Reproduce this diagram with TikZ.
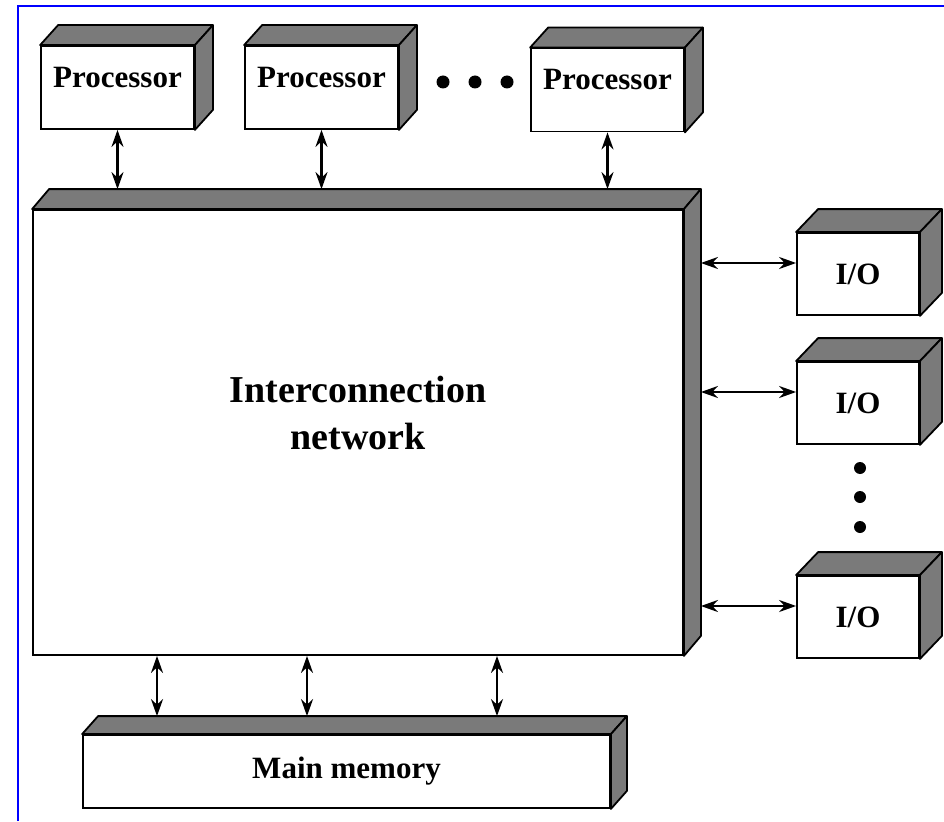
\documentclass[tikz,border=0pt]{standalone}
\usepackage{fontspec}
\setmainfont{Liberation Serif}
\usetikzlibrary{arrows.meta,calc}

\tikzset{
  face/.style={draw,fill=white,line width=1.8pt,inner sep=0pt,
    font=\bfseries\fontsize{31}{36}\selectfont},
  lbl/.style={inner sep=0pt,font=\bfseries\fontsize{31}{36}\selectfont},
  shade/.style={draw,fill=black!52,line width=1.8pt,line join=round},
  link/.style={{Stealth[length=17pt,width=12pt]}-{Stealth[length=17pt,width=12pt]},line width=2.2pt},
}
% top and right side of a box whose front is node #1, depth (#2,#3)
\newcommand{\boxsides}[3]{%
  \draw[shade] (#1.north west) -- ++(#2,#3) -- ($(#1.north east)+(#2,#3)$)
    -- (#1.north east) -- cycle;
  \draw[shade] (#1.north east) -- ++(#2,#3) -- ($(#1.south east)+(#2,#3)$)
    -- (#1.south east) -- cycle;}

\begin{document}
\begin{tikzpicture}[x=1pt,y=-1pt]
 \useasboundingbox (0,0) rectangle (944,821);
 \draw[blue,line width=2.2pt] (18,821) -- (18,6) -- (944,6);
 % processors
 \foreach \n/\x/\y in {p1/117.5/87.5,p2/321.5/87.5,p3/607.5/90}{
  \node[face,minimum width=153pt,minimum height=83pt] (\n) at (\x,\y) {};
  \boxsides{\n}{18}{-20}
  \node[lbl] (\n-t) at ([yshift=10pt]\n.center) {Processor};
 }
 \foreach \x in {443,475,507}{\fill (\x,82) circle (6.5pt);}
 % interconnection network
 \node[face,minimum width=650pt,minimum height=445pt] (net) at (358,432.5) {};
 \boxsides{net}{17}{-20}
 \node[lbl,align=center,font=\bfseries\fontsize{38}{47}\selectfont] (net-t)
   at ([yshift=20pt]net.center) {Interconnection\\network};
 \coordinate (netback) at ($(net.north west)+(17,-20)$);
 \coordinate (netside) at ($(net.north east)+(17,0)$);
 % I/O modules
 \foreach \n/\y in {io1/274,io2/403,io3/617}{
  \node[face,minimum width=122pt,minimum height=82pt] (\n) at (858,\y) {I/O};
  \boxsides{\n}{22}{-23}
 }
 \foreach \y in {468,497,527}{\fill (860,\y) circle (6pt);}
 % main memory
 \node[face,minimum width=527pt,minimum height=73pt] (mem) at (346.5,771.5) {Main memory};
 \boxsides{mem}{16}{-18}
 \coordinate (memback) at ($(mem.north west)+(16,-18)$);
 % links
 \foreach \n in {p1,p2,p3}{\draw[link] (\n.south) -- (\n.south |- netback);}
 \foreach \n in {io1,io2,io3}{
  \path (\n.west) ++(0,-11) coordinate (\n-in);
  \draw[link] (\n-in -| netside) -- (\n-in);
 }
 \foreach \x in {157,307,497}{
  \coordinate (m\x) at (\x,690);
  \draw[link] (m\x |- net.south) -- (m\x |- memback);
 }
\end{tikzpicture}
\end{document}
